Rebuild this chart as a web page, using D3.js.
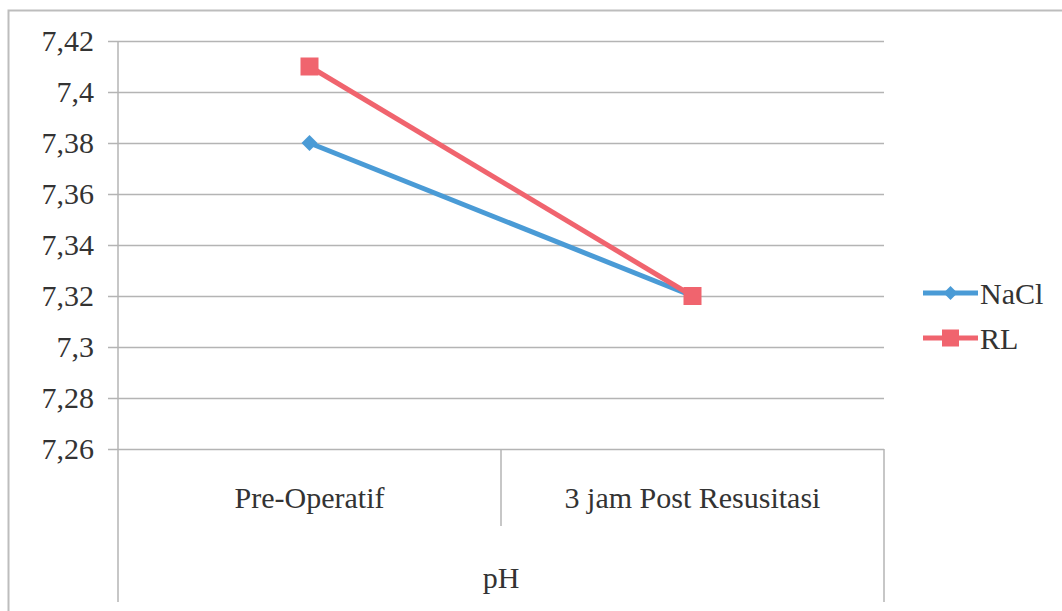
<!DOCTYPE html>
<html>
<head>
<meta charset="utf-8">
<script src="https://cdn.jsdelivr.net/npm/d3@7"></script>
</head>
<body style="margin:0; background:#fff">
<div id="chart"></div>
<script>
// Data
const categories = ['Pre-Operatif', '3 jam Post Resusitasi'];
const groupLabel = 'pH';
const naclValues = [7.38, 7.32];
const rlValues = [7.41, 7.32];
const yTicks = [7.26, 7.28, 7.3, 7.32, 7.34, 7.36, 7.38, 7.4, 7.42];

const series = [
  { name: 'NaCl', values: naclValues, color: '#4a9bd6', marker: 'diamond' },
  { name: 'RL', values: rlValues, color: '#f0646e', marker: 'square' }
];

// Layout
const width = 1062;
const height = 611;
const plotLeft = 118;
const plotRight = 884;
const plotTop = 41;
const plotBottom = 449;
const axisBottom = 602;
const catLevelBottom = 526;
const FONT = 'Liberation Serif';
const TEXT_COLOR = '#333';

const svg = d3.select('#chart')
  .append('svg')
  .attr('width', width)
  .attr('height', height)
  .attr('font-family', FONT);

// outer border
svg.append('rect')
  .attr('x', 8.5)
  .attr('y', 10.5)
  .attr('width', width)
  .attr('height', height)
  .attr('fill', 'none')
  .attr('stroke', '#bdbdbd')
  .attr('stroke-width', 2);

// scales
const x = d3.scaleBand()
  .domain(categories)
  .range([plotLeft, plotRight])
  .padding(0);

const y = d3.scaleLinear()
  .domain([d3.min(yTicks), d3.max(yTicks)])
  .range([plotBottom, plotTop]);

const fmt = v => String(+v.toFixed(2)).replace('.', ',');

// gridlines + tick labels
const yAxis = svg.append('g')
  .attr('transform', `translate(${plotLeft},0)`)
  .call(d3.axisLeft(y).tickValues(yTicks).tickFormat(fmt)
    .tickSize(-(plotRight - plotLeft)).tickPadding(24))
  .attr('font-family', FONT)
  .attr('font-size', 30);
yAxis.select('.domain').remove();
yAxis.selectAll('.tick line')
  .attr('stroke', '#b4b4b4')
  .attr('stroke-width', 1.5)
  .attr('x1', -10);
yAxis.selectAll('.tick text')
  .attr('font-family', FONT)
  .attr('font-size', 30)
  .attr('fill', TEXT_COLOR);

// vertical axis lines
const vLines = [
  { x: plotLeft, y1: plotTop, y2: axisBottom },
  { x: x(categories[1]), y1: plotBottom, y2: catLevelBottom },
  { x: plotRight, y1: plotBottom, y2: axisBottom }
];
svg.selectAll('.vline')
  .data(vLines)
  .enter()
  .append('line')
  .attr('class', 'vline')
  .attr('x1', d => d.x)
  .attr('x2', d => d.x)
  .attr('y1', d => d.y1)
  .attr('y2', d => d.y2)
  .attr('stroke', '#b4b4b4')
  .attr('stroke-width', 1.5);

// category labels
svg.selectAll('.cat')
  .data(categories)
  .enter()
  .append('text')
  .attr('class', 'cat')
  .attr('x', d => x(d) + x.bandwidth() / 2)
  .attr('y', 497)
  .attr('dy', '0.35em')
  .attr('text-anchor', 'middle')
  .attr('font-family', FONT)
  .attr('font-size', 30)
  .attr('fill', TEXT_COLOR)
  .text(d => d);

svg.append('text')
  .attr('x', (plotLeft + plotRight) / 2)
  .attr('y', 577)
  .attr('dy', '0.35em')
  .attr('text-anchor', 'middle')
  .attr('font-family', FONT)
  .attr('font-size', 30)
  .attr('fill', TEXT_COLOR)
  .text(groupLabel);

// markers
function drawMarker(g, type, cx, cy, size, color) {
  if (type === 'square') {
    g.append('rect')
      .attr('x', cx - size / 2)
      .attr('y', cy - size / 2)
      .attr('width', size)
      .attr('height', size)
      .attr('fill', color);
  } else {
    const r = size / 2;
    g.append('path')
      .attr('d', `M${cx},${cy - r}L${cx + r},${cy}L${cx},${cy + r}L${cx - r},${cy}Z`)
      .attr('fill', color);
  }
}

const line = d3.line()
  .x((d, i) => x(categories[i]) + x.bandwidth() / 2)
  .y(d => y(d));

series.forEach(s => {
  const g = svg.append('g');
  g.append('path')
    .datum(s.values)
    .attr('d', line)
    .attr('fill', 'none')
    .attr('stroke', s.color)
    .attr('stroke-width', 5);
  s.values.forEach((v, i) => {
    drawMarker(g, s.marker, x(categories[i]) + x.bandwidth() / 2, y(v),
      s.marker === 'square' ? 18 : 16, s.color);
  });
});

// legend
const legend = svg.append('g').attr('transform', 'translate(923,293)');
series.forEach((s, i) => {
  const row = legend.append('g').attr('transform', `translate(0,${i * 45})`);
  row.append('line')
    .attr('x1', 0)
    .attr('x2', 55)
    .attr('stroke', s.color)
    .attr('stroke-width', 5);
  drawMarker(row, s.marker, 27.5, 0, s.marker === 'square' ? 17 : 14, s.color);
  row.append('text')
    .attr('x', 57)
    .attr('dy', '0.35em')
    .attr('font-family', FONT)
    .attr('font-size', 30)
    .attr('fill', TEXT_COLOR)
    .text(s.name);
});
</script>
</body>
</html>
